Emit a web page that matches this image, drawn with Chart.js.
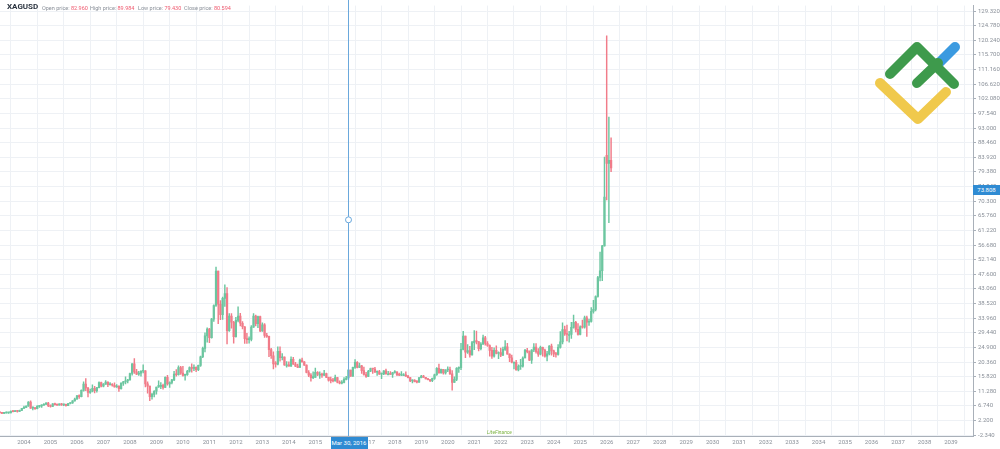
<!DOCTYPE html>
<html>
<head>
<meta charset="utf-8">
<script src="https://cdn.jsdelivr.net/npm/chart.js@4.4.1/dist/chart.umd.min.js"></script>
<style>
  html, body { margin: 0; padding: 0; background: #fff; }
  #wrap { position: relative; width: 1000px; height: 449px; overflow: hidden; font-family: Roboto, "Open Sans", sans-serif; }
  #chart { position: absolute; left: 0; top: 0; }
  .lbl { position: absolute; white-space: nowrap; font-size: 5.5px; line-height: 8px; color: #8a9099; }
  .val { color: #ef5a6f; }
  .tag { position: absolute; background: #2f8bd3; color: #fff; font-size: 6px; text-align: center; white-space: nowrap; }
</style>
</head>
<body>
<div id="wrap">
  <canvas id="chart" width="1000" height="449"></canvas>
  <div class="lbl" style="left:7px;top:3px;font-size:8px;font-weight:bold;color:#2b3440;">XAGUSD</div>
  <div class="lbl" style="left:42px;top:4px;">Open price: <span class="val">82.960</span></div>
  <div class="lbl" style="left:90px;top:4px;">High price: <span class="val">89.984</span></div>
  <div class="lbl" style="left:138px;top:4px;">Low price: <span class="val">79.430</span></div>
  <div class="lbl" style="left:184px;top:4px;">Close price: <span class="val">80.594</span></div>
  <div class="lbl" style="left:487px;top:428px;font-style:italic;font-size:5px;color:#7cb342;">LiteFinance</div>
  <div id="dateTag" class="tag" style="top:437px;height:12px;line-height:12px;width:37px;">Mar 30, 2016</div>
  <div id="priceTag" class="tag" style="left:973px;height:10px;line-height:10px;width:27px;">73.808</div>
</div>
<script>
// XAGUSD monthly candles, Feb 2003 .. Mar 2026
// month index counted from Jan 2003 = 0
const firstMonth = 1;

const opens = [
  4.83,4.61,4.43,4.53,4.56,4.58,5.09,4.98,5.15,5.03,5.37,                  // 2003
  5.97,6.30,6.71,7.96,6.05,6.10,5.86,6.60,6.75,6.95,7.25,7.60,              // 2004
  6.82,6.55,7.40,7.15,7.00,7.35,7.05,7.20,6.85,7.50,7.70,8.30,              // 2005
  8.85,9.85,9.60,11.55,13.55,12.30,10.90,11.30,12.20,11.50,12.40,14.00,     // 2006
  12.90,13.50,14.10,13.30,13.40,13.15,12.60,12.90,12.10,13.80,14.20,14.50,  // 2007
  14.80,16.80,19.80,17.30,16.60,16.90,17.50,17.60,13.60,12.90,9.60,10.30,   // 2008
  11.30,12.60,13.10,13.10,12.50,15.60,13.60,14.00,14.80,16.60,16.40,18.60,  // 2009
  16.90,16.20,16.40,17.50,18.60,18.40,18.70,18.00,19.30,22.00,24.60,28.50,  // 2010
  30.60,27.90,33.70,37.90,48.60,38.30,35.10,40.10,41.60,30.10,34.60,32.70,  // 2011
  28.20,33.30,34.60,32.40,31.30,27.60,27.30,27.40,31.20,34.60,32.30,34.50,  // 2012
  30.00,31.90,28.60,28.30,24.20,22.30,19.80,19.70,23.70,21.70,21.90,19.50,  // 2013
  19.50,19.10,21.20,19.70,19.10,18.70,21.00,20.40,19.40,17.10,16.30,15.50,  // 2014
  15.60,17.20,16.60,16.60,16.30,16.80,15.60,14.70,14.60,14.50,15.50,14.10,  // 2015
  13.80,14.00,15.00,15.40,17.90,16.00,18.70,20.30,18.70,19.20,17.70,16.50,  // 2016
  15.90,17.50,18.30,18.20,17.20,17.40,16.60,16.70,17.60,16.70,16.70,16.55,  // 2017
  17.10,17.30,16.40,16.30,16.40,16.40,16.00,15.50,14.50,14.70,14.30,14.10,  // 2018
  15.50,16.00,15.60,15.10,14.90,14.60,15.30,16.40,18.40,17.00,18.10,17.00,  // 2019
  17.90,18.00,16.70,14.00,15.00,18.40,18.60,24.30,28.40,23.40,23.90,22.60,  // 2020
  26.40,26.90,26.70,24.50,25.90,27.90,26.10,25.50,24.00,22.20,24.00,23.00,  // 2021
  23.30,22.50,24.30,25.10,22.80,21.70,20.30,20.30,17.90,19.00,19.10,21.60,  // 2022
  24.00,23.60,20.90,24.10,25.00,23.60,22.80,24.90,24.10,22.20,22.90,25.30,  // 2023
  23.80,22.90,22.70,24.90,26.60,30.40,29.10,28.90,28.90,31.10,32.70,30.50,  // 2024
  28.90,31.30,31.20,34.10,32.70,33.00,36.10,36.70,40.70,46.60,48.70,56.40,  // 2025
  84.50,82.00,82.960                                                         // 2026
];

const highs = [
  4.88,4.66,4.65,4.88,4.71,5.19,5.26,5.30,5.23,5.46,5.97,
  6.65,6.80,8.05,8.29,6.45,6.30,6.85,6.90,7.05,7.45,7.78,7.82,
  7.05,7.50,7.60,7.30,7.40,7.55,7.30,7.30,7.55,7.75,8.40,9.20,
  10.00,10.20,11.70,14.20,15.20,12.50,12.00,13.30,12.80,12.50,14.20,14.10,
  13.70,14.60,14.20,14.00,13.70,13.90,13.40,13.00,13.90,14.40,15.80,15.00,
  16.90,19.90,21.40,18.10,17.50,17.70,19.50,17.70,14.20,12.90,10.70,11.50,
  12.60,14.50,14.00,13.50,15.80,16.20,14.20,15.00,17.50,18.00,19.20,19.00,
  19.00,16.60,17.80,18.90,19.80,19.50,18.90,19.40,22.20,25.00,29.40,31.00,
  30.80,33.90,38.10,49.80,48.60,39.40,40.50,44.30,43.50,35.40,35.40,33.00,
  34.20,37.50,35.50,32.90,31.40,29.30,28.20,31.70,35.40,34.90,34.60,34.60,
  32.50,32.30,29.30,28.40,24.60,23.50,20.50,25.10,25.10,23.00,22.00,20.50,
  20.40,22.00,21.80,20.30,19.70,21.30,21.60,20.50,19.50,17.70,16.80,17.30,
  18.50,17.40,17.30,16.90,17.80,16.90,15.70,15.70,15.30,16.30,15.60,14.50,
  14.60,15.50,15.90,18.00,17.90,18.80,21.10,20.50,20.00,19.30,18.80,17.20,
  17.80,18.50,18.40,18.70,17.60,17.80,16.90,17.70,18.20,17.50,17.40,17.20,
  17.70,17.30,16.90,17.40,16.80,17.30,16.20,15.60,14.80,14.90,14.60,15.50,
  16.20,16.20,15.60,15.20,14.90,15.40,16.60,18.60,19.70,18.20,18.10,18.00,
  18.90,18.80,17.70,15.80,18.60,18.90,26.20,29.90,28.40,25.80,25.20,26.80,
  30.10,30.00,26.70,26.40,28.70,28.30,26.70,25.70,24.90,24.80,25.40,23.50,
  24.70,25.00,27.00,26.20,22.90,22.50,20.40,20.90,19.50,21.20,22.00,24.30,
  24.60,23.80,24.20,26.10,26.10,24.50,25.30,25.00,24.40,23.70,25.50,25.90,
  24.10,23.40,25.80,29.80,32.50,31.50,31.80,29.90,32.70,34.90,33.00,32.30,
  31.60,33.40,34.60,34.60,33.70,37.30,39.50,40.90,47.00,54.50,56.60,84.00,
  121.60,96.40,89.984
];

const lows = [
  4.50,4.37,4.37,4.47,4.43,4.58,4.88,4.94,4.83,4.96,5.30,
  5.95,6.20,6.62,5.95,5.50,5.65,5.80,6.30,6.30,6.90,7.15,6.50,
  6.35,6.50,7.00,6.90,6.95,6.90,6.85,6.65,6.80,7.35,7.55,8.20,
  8.80,9.10,9.55,11.30,11.50,9.50,10.60,11.10,10.80,11.00,12.30,12.60,
  12.60,13.40,12.70,13.20,12.90,12.55,12.50,11.20,11.90,13.10,13.60,13.90,
  14.70,16.30,16.80,16.40,16.20,16.00,17.00,12.60,10.70,8.40,8.80,9.50,
  10.40,12.50,12.10,11.90,12.40,13.20,12.50,13.60,14.60,16.00,16.30,16.50,
  16.00,14.70,16.20,17.20,17.20,17.70,17.40,17.70,19.00,21.70,23.50,26.50,
  26.40,27.80,33.00,37.60,32.30,33.50,33.60,37.60,26.00,29.90,30.90,26.20,
  28.10,32.80,31.60,30.60,26.10,26.10,26.20,26.90,31.10,31.60,31.00,29.80,
  29.90,28.00,28.00,22.00,21.50,18.20,18.80,19.50,20.60,21.00,19.30,18.80,
  19.10,19.00,19.60,18.90,18.60,18.70,20.30,19.30,17.00,15.80,14.40,15.20,
  15.60,16.10,15.30,15.60,16.10,15.50,14.40,13.90,14.20,14.40,13.90,13.60,
  13.60,13.90,14.80,15.00,15.90,15.90,18.40,18.50,18.60,16.80,16.30,15.60,
  15.80,17.40,16.80,17.10,16.20,16.50,15.20,16.40,16.60,16.50,16.50,15.60,
  16.90,16.10,16.10,16.10,16.10,15.90,15.40,14.30,13.90,14.20,13.90,14.00,
  15.40,15.60,15.10,14.80,14.30,14.30,15.00,16.20,16.90,16.90,16.60,16.60,
  17.40,16.50,11.60,14.00,14.60,17.10,18.00,24.10,21.70,23.00,21.90,22.50,
  24.20,26.00,23.80,24.10,25.80,25.60,25.20,22.20,21.50,21.90,22.90,21.40,
  22.00,22.30,24.00,22.80,20.50,20.10,18.20,17.80,17.60,18.10,18.80,21.60,
  23.20,20.80,19.90,23.60,23.10,22.10,22.60,22.20,21.90,20.70,22.60,22.50,
  22.00,21.90,22.50,24.70,26.00,28.60,26.90,26.50,27.70,30.90,29.70,28.70,
  28.80,30.90,30.90,28.30,31.70,32.70,35.50,36.20,40.50,45.50,45.60,56.30,
  70.70,63.60,79.430
];

const closes = [
  4.61,4.43,4.53,4.56,4.58,5.09,4.98,5.15,5.03,5.37,5.97,
  6.30,6.71,7.96,6.05,6.10,5.86,6.60,6.75,6.95,7.25,7.60,6.82,
  6.55,7.40,7.15,7.00,7.35,7.05,7.20,6.85,7.50,7.70,8.30,8.85,
  9.85,9.60,11.55,13.55,12.30,10.90,11.30,12.20,11.50,12.40,14.00,12.90,
  13.50,14.10,13.30,13.40,13.15,12.60,12.90,12.10,13.80,14.20,14.50,14.80,
  16.80,19.80,17.30,16.60,16.90,17.50,17.60,13.60,12.90,9.60,10.30,11.30,
  12.60,13.10,13.10,12.50,15.60,13.60,14.00,14.80,16.60,16.40,18.60,16.90,
  16.20,16.40,17.50,18.60,18.40,18.70,18.00,19.30,22.00,24.60,28.50,30.60,
  27.90,33.70,37.90,48.60,38.30,35.10,40.10,41.60,30.10,34.60,32.70,28.20,
  33.30,34.60,32.40,31.30,27.60,27.30,27.40,31.20,34.60,32.30,34.50,30.00,
  31.90,28.60,28.30,24.20,22.30,19.80,19.70,23.70,21.70,21.90,19.50,19.50,
  19.10,21.20,19.70,19.10,18.70,21.00,20.40,19.40,17.10,16.30,15.50,15.60,
  17.20,16.60,16.60,16.30,16.80,15.60,14.70,14.60,14.50,15.50,14.10,13.80,
  14.00,15.00,15.40,17.90,16.00,18.70,20.30,18.70,19.20,17.70,16.50,15.90,
  17.50,18.30,18.20,17.20,17.40,16.60,16.70,17.60,16.70,16.70,16.55,17.10,
  17.30,16.40,16.30,16.40,16.40,16.00,15.50,14.50,14.70,14.30,14.10,15.50,
  16.00,15.60,15.10,14.90,14.60,15.30,16.40,18.40,17.00,18.10,17.00,17.90,
  18.00,16.70,14.00,15.00,18.40,18.60,24.30,28.40,23.40,23.90,22.60,26.40,
  26.90,26.70,24.50,25.90,27.90,26.10,25.50,24.00,22.20,24.00,23.00,23.30,
  22.50,24.30,25.10,22.80,21.70,20.30,20.30,17.90,19.00,19.10,21.60,24.00,
  23.60,20.90,24.10,25.00,23.60,22.80,24.90,24.10,22.20,22.90,25.30,23.80,
  22.90,22.70,24.90,26.60,30.40,29.10,28.90,28.90,31.10,32.70,30.50,28.90,
  31.30,31.20,34.10,32.70,33.00,36.10,36.70,40.70,46.60,48.70,56.40,71.60,
  82.00,82.960,80.594
];

// axis ticks
const yearTicks = [2004,2005,2006,2007,2008,2009,2010,2011,2012,2013,2014,2015,2016,2017,2018,2019,2020,2021,
  2022,2023,2024,2025,2026,2027,2028,2029,2030,2031,2032,2033,2034,2035,2036,2037,2038,2039];
const priceTicks = [-2.34,2.2,6.74,11.28,15.82,20.36,24.9,29.44,33.96,38.52,43.06,47.6,52.14,56.68,61.22,
  65.76,70.3,74.84,79.38,83.92,88.46,93,97.54,102.08,106.62,111.16,115.7,120.24,124.78,129.32];

// crosshair / marker
const crossDate = { year: 2016, month: 3, day: 30 };
const crossPrice = 64.5;
const markerPrice = 73.808;

const UP = '#6cc6a0';
const DOWN = '#f17c89';

const monthOf = (y, m) => (y - 2003) * 12 + (m - 1);
const candles = opens.map((o, i) => ({ m: firstMonth + i, o, h: highs[i], l: lows[i], c: closes[i] }));
const colors = candles.map(d => d.c >= d.o ? UP : DOWN);

const overlay = {
  id: 'overlay',
  afterDatasetsDraw(chart) {
    const { ctx, chartArea, scales: { x, y } } = chart;
    const cm = monthOf(crossDate.year, crossDate.month) + (crossDate.day - 1) / 31;
    const px = Math.round(x.getPixelForValue(cm)) + 0.5;
    const py = y.getPixelForValue(crossPrice);
    ctx.save();
    ctx.strokeStyle = '#6aa8dc';
    ctx.lineWidth = 1;
    ctx.beginPath();
    ctx.moveTo(px, 0);
    ctx.lineTo(px, chartArea.bottom);
    ctx.stroke();
    ctx.beginPath();
    ctx.arc(px, py, 3, 0, Math.PI * 2);
    ctx.fillStyle = '#fff';
    ctx.fill();
    ctx.stroke();

    // logo
    ctx.lineCap = 'round';
    ctx.lineJoin = 'round';
    ctx.lineWidth = 10;
    ctx.strokeStyle = '#f0c94c';
    ctx.beginPath();
    ctx.moveTo(880, 83); ctx.lineTo(918, 119); ctx.lineTo(946, 92);
    ctx.stroke();
    ctx.strokeStyle = '#3b9ae0';
    ctx.beginPath();
    ctx.moveTo(938, 64); ctx.lineTo(955, 47);
    ctx.stroke();
    ctx.strokeStyle = '#3e9a4c';
    ctx.beginPath();
    ctx.moveTo(890, 74); ctx.lineTo(917, 47); ctx.lineTo(954, 84);
    ctx.stroke();
    ctx.beginPath();
    ctx.moveTo(917, 83); ctx.lineTo(938, 63);
    ctx.stroke();
    ctx.restore();

    const dt = document.getElementById('dateTag');
    dt.style.left = (px - 18) + 'px';
    const pt = document.getElementById('priceTag');
    pt.style.top = (y.getPixelForValue(markerPrice) - 5) + 'px';
  }
};

const ctx = document.getElementById('chart').getContext('2d');

new Chart(ctx, {
  type: 'bar',
  data: {
    datasets: [
      {
        // wicks
        data: candles.map(d => ({ x: d.m, y: [d.l, d.h] })),
        backgroundColor: colors,
        barThickness: 0.8,
        grouped: false
      },
      {
        // bodies
        data: candles.map(d => ({ x: d.m, y: [Math.min(d.o, d.c), Math.max(d.o, d.c)] })),
        backgroundColor: colors,
        barThickness: 1.6,
        minBarLength: 1,
        grouped: false
      }
    ]
  },
  options: {
    responsive: false,
    animation: false,
    events: [],
    layout: { padding: 0 },
    plugins: { legend: { display: false }, tooltip: { enabled: false } },
    scales: {
      x: {
        type: 'linear',
        offset: false,
        min: 1.13,
        max: 441.97,
        grid: { color: '#eef1f5', drawTicks: false },
        border: { color: '#a9b0b9' },
        ticks: {
          autoSkip: false,
          maxRotation: 0,
          padding: 3,
          color: '#8a9099',
          font: { size: 6, family: 'Roboto' },
          callback: v => String(2003 + v / 12)
        },
        afterBuildTicks: s => { s.ticks = yearTicks.map(y => ({ value: monthOf(y, 1) })); },
        afterFit: s => { s.height = 13; }
      },
      y: {
        position: 'right',
        min: -2.6,
        max: 131,
        grid: { color: '#eef1f5', tickLength: 3, tickColor: '#a9b0b9' },
        border: { color: '#a9b0b9' },
        ticks: {
          padding: 2,
          color: '#8a9099',
          font: { size: 6, family: 'Roboto' },
          callback: v => v.toFixed(3)
        },
        afterBuildTicks: s => { s.ticks = priceTicks.map(v => ({ value: v })); },
        afterFit: s => { s.width = 27; }
      }
    }
  },
  plugins: [overlay]
});
</script>
</body>
</html>
